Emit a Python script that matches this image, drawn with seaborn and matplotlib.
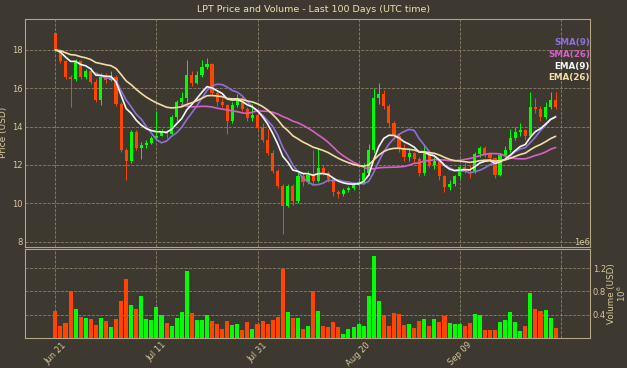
import matplotlib
matplotlib.use("Agg")
import matplotlib.dates as mdates
import matplotlib.pyplot as plt
import numpy as np
import pandas as pd
import seaborn as sns

# daily candles (USD)
start_date = "2024-06-21"
opens = [18.9, 18.0, 17.45, 16.6, 16.5, 17.4, 16.6, 16.9, 16.35, 15.4,
         16.6, 16.45, 16.6, 15.2, 12.8, 12.2, 13.7, 12.9, 13.05, 13.15,
         13.4, 13.5, 13.7, 13.6, 14.5, 15.3, 15.5, 16.7, 16.3, 16.7,
         17.1, 17.25, 15.75, 15.3, 15.15, 14.3, 15.15, 15.5, 14.9, 14.45,
         14.6, 14.0, 13.3, 12.6, 11.7, 10.9, 9.85, 10.9, 10.1, 11.4,
         11.1, 11.5, 11.15, 11.85, 11.6, 11.25, 10.6, 10.5, 10.7, 10.8,
         10.95, 11.1, 11.6, 12.8, 15.5, 15.7, 15.1, 14.2, 13.5, 12.9,
         12.4, 12.6, 12.3, 11.6, 12.7, 12.0, 12.2, 11.4, 10.85, 11.0,
         11.4, 11.9, 11.8, 11.7, 12.55, 12.9, 12.55, 12.35, 11.5, 12.5,
         12.8, 13.4, 13.7, 13.8, 13.5, 15.0, 14.9, 14.5, 15.05, 15.4]
closes = [18.0, 17.45, 16.6, 16.5, 17.4, 16.6, 16.9, 16.35, 15.4, 16.6,
          16.45, 16.6, 15.2, 12.8, 12.2, 13.7, 12.9, 13.05, 13.15, 13.4,
          13.5, 13.7, 13.6, 14.5, 15.3, 15.5, 16.7, 16.3, 16.7, 17.1,
          17.25, 15.75, 15.3, 15.15, 14.3, 15.15, 15.5, 14.9, 14.45, 14.6,
          14.0, 13.3, 12.6, 11.7, 10.9, 9.85, 10.9, 10.1, 11.4, 11.1,
          11.5, 11.15, 11.85, 11.6, 11.25, 10.6, 10.5, 10.7, 10.8, 10.95,
          11.1, 11.6, 12.8, 15.5, 15.7, 15.1, 14.2, 13.5, 12.9, 12.4,
          12.6, 12.3, 11.6, 12.7, 12.0, 12.2, 11.4, 10.85, 11.0, 11.4,
          11.9, 11.8, 11.7, 12.55, 12.9, 12.55, 12.35, 11.5, 12.5, 12.8,
          13.4, 13.7, 13.8, 13.5, 15.0, 14.9, 14.5, 15.05, 15.4, 15.0]
highs = [18.95, 18.05, 17.5, 16.7, 17.55, 17.5, 17.0, 17.1, 16.5, 16.8,
         16.8, 16.9, 16.7, 15.3, 12.9, 13.8, 13.8, 13.2, 13.3, 13.5,
         14.8, 13.9, 13.8, 14.6, 15.4, 15.8, 17.5, 16.9, 16.9, 17.5,
         17.6, 17.3, 15.9, 15.5, 15.2, 15.3, 15.7, 15.6, 15.0, 15.2,
         14.7, 14.2, 13.9, 12.8, 11.8, 11.0, 11.0, 11.0, 11.6, 11.6,
         11.7, 12.8, 12.9, 12.0, 11.7, 11.3, 10.7, 10.8, 10.9, 11.1,
         11.3, 12.1, 13.1, 16.0, 16.3, 15.9, 15.2, 14.3, 13.6, 13.1,
         12.9, 12.7, 12.4, 13.0, 12.8, 12.4, 12.3, 11.5, 11.2, 11.5,
         12.0, 12.1, 12.0, 12.7, 13.0, 13.0, 12.6, 12.4, 12.6, 13.0,
         13.9, 14.0, 14.2, 13.9, 15.8, 15.5, 15.1, 15.3, 15.8, 15.8]
lows = [17.95, 17.3, 16.5, 15.05, 16.4, 16.5, 16.5, 16.2, 15.3, 15.15,
        16.3, 16.4, 15.1, 12.7, 11.2, 12.1, 12.8, 12.3, 12.9, 13.1,
        13.3, 13.5, 13.4, 13.5, 14.3, 15.2, 15.3, 16.1, 16.2, 16.6,
        17.0, 15.6, 15.1, 15.0, 13.6, 14.2, 15.0, 14.8, 14.3, 14.3,
        13.9, 13.2, 12.5, 11.6, 10.8, 8.4, 9.8, 9.9, 10.0, 10.9,
        11.0, 11.0, 11.1, 11.5, 11.1, 10.4, 10.3, 10.4, 10.6, 10.7,
        10.9, 11.0, 11.5, 12.6, 15.2, 14.9, 14.0, 13.3, 12.7, 12.2,
        12.2, 12.1, 11.4, 11.5, 11.9, 11.8, 11.2, 10.6, 10.7, 10.9,
        11.3, 11.6, 11.3, 11.6, 12.4, 12.4, 12.2, 11.3, 11.4, 12.4,
        12.7, 13.3, 13.5, 13.3, 13.4, 14.7, 14.3, 14.4, 14.9, 14.9]
# volume in millions USD
volumes = [0.47, 0.21, 0.26, 0.80, 0.50, 0.36, 0.35, 0.32, 0.22, 0.35,
           0.29, 0.19, 0.33, 0.63, 1.01, 0.56, 0.49, 0.72, 0.33, 0.30,
           0.53, 0.39, 0.25, 0.21, 0.34, 0.45, 1.15, 0.43, 0.31, 0.31,
           0.40, 0.29, 0.24, 0.16, 0.29, 0.22, 0.23, 0.13, 0.28, 0.16,
           0.23, 0.29, 0.24, 0.30, 0.36, 1.19, 0.44, 0.34, 0.35, 0.16,
           0.21, 0.81, 0.47, 0.21, 0.19, 0.28, 0.19, 0.06, 0.15, 0.19,
           0.24, 0.21, 0.73, 1.42, 0.63, 0.39, 0.21, 0.43, 0.41, 0.22,
           0.24, 0.17, 0.29, 0.33, 0.21, 0.33, 0.28, 0.37, 0.25, 0.24,
           0.24, 0.21, 0.25, 0.41, 0.39, 0.14, 0.14, 0.14, 0.28, 0.31,
           0.44, 0.28, 0.12, 0.21, 0.77, 0.50, 0.47, 0.48, 0.35, 0.17]

ma_labels = ["SMA(9)", "SMA(26)", "EMA(9)", "EMA(26)"]
ma_colors = ["#8f6fd8", "#d660c8", "#f4f8f4", "#f2dca6"]

BG = "#3d3931"
TXT = "#d9c89c"
GRID = "#8c8068"
EDGE = "#b3a483"
UP = "#00ff00"
DOWN = "#ff4500"

sns.set_theme(style="darkgrid", rc={
    "axes.facecolor": BG, "figure.facecolor": BG, "axes.edgecolor": EDGE,
    "axes.linewidth": 0.8, "grid.color": GRID, "grid.linestyle": "--",
    "grid.linewidth": 0.6, "text.color": TXT, "axes.labelcolor": TXT,
    "xtick.color": TXT, "ytick.color": TXT,
})
plt.rcParams["font.family"] = ["DejaVu Sans"]

df = pd.DataFrame({
    "date": pd.date_range(start_date, periods=len(closes), freq="D"),
    "open": opens, "high": highs, "low": lows, "close": closes,
    "volume": np.array(volumes) * 1e6,
})
df["x"] = mdates.date2num(df["date"])
df["SMA(9)"] = df["close"].rolling(9).mean()
df["SMA(26)"] = df["close"].rolling(26).mean()
df["EMA(9)"] = df["close"].ewm(span=9, adjust=False).mean()
df["EMA(26)"] = df["close"].ewm(span=26, adjust=False).mean()
colors = np.where(df["close"] >= df["open"], UP, DOWN)

fig = plt.figure(figsize=(6.27, 3.68), dpi=100)
ax = fig.add_axes([0.040, 0.330, 0.901, 0.618])
axv = fig.add_axes([0.040, 0.082, 0.901, 0.241], sharex=ax)

# candles
ax.vlines(df["x"], df["low"], df["high"], colors=colors, lw=0.7, zorder=2)
body_lo = np.minimum(df["open"], df["close"])
body_h = np.maximum(np.abs(df["close"] - df["open"]), 0.05)
ax.bar(df["x"], body_h, bottom=body_lo, width=0.62, color=colors,
       edgecolor="none", linewidth=0, zorder=3)

long_ma = df.melt(id_vars="x", value_vars=ma_labels, var_name="ma", value_name="v")
sns.lineplot(data=long_ma, x="x", y="v", hue="ma", palette=dict(zip(ma_labels, ma_colors)),
             hue_order=ma_labels, lw=1.2, ax=ax, zorder=4)
leg = ax.legend(loc="upper right", bbox_to_anchor=(1.0, 0.915), frameon=False,
                handlelength=0, handletextpad=0, markerfirst=False, borderpad=0,
                borderaxespad=0, labelspacing=0.3, labelcolor="linecolor",
                prop={"size": 6.3, "weight": "bold"})
for h in leg.legend_handles:
    h.set_visible(False)

ax.set_ylim(7.74, 19.61)
ax.set_yticks([8, 10, 12, 14, 16, 18])
ax.set_ylabel("Price (USD)", fontsize=6.5, labelpad=3)
ax.set_xlabel("")
ax.tick_params(axis="y", labelsize=6, pad=2, length=0)
ax.tick_params(axis="x", labelbottom=False, length=0)

# volume
axv.bar(df["x"], df["volume"], width=0.8, color=colors, edgecolor="none",
        linewidth=0, zorder=2)
axv.set_ylim(0, 1.53e6)
axv.set_yticks([0.4e6, 0.8e6, 1.2e6])
axv.yaxis.tick_right()
axv.yaxis.set_label_position("right")
axv.yaxis.get_offset_text().set_fontsize(6)
axv.set_ylabel("Volume (USD)\n$10^{6}$", fontsize=6.3, labelpad=1, linespacing=0.95)
axv.tick_params(axis="y", labelsize=6, pad=2, length=0)

ticks = pd.date_range(start_date, periods=6, freq="20D")
axv.set_xticks(mdates.date2num(ticks))
axv.set_xticklabels([t.strftime("%b %d") for t in ticks[:-1]] + [""],
                    rotation=45, ha="center", fontsize=6)
axv.tick_params(axis="x", length=0, pad=2)
axv.set_xlim(df["x"].iloc[0] - 6.0, df["x"].iloc[0] + 105.8)

fig.text(0.5, 1 - 9 / 368, "LPT Price and Volume - Last 100 Days (UTC time)",
         ha="center", va="center", fontsize=6.8, color="#f0dfae")

fig.savefig("out.png", dpi=100, facecolor=BG)
